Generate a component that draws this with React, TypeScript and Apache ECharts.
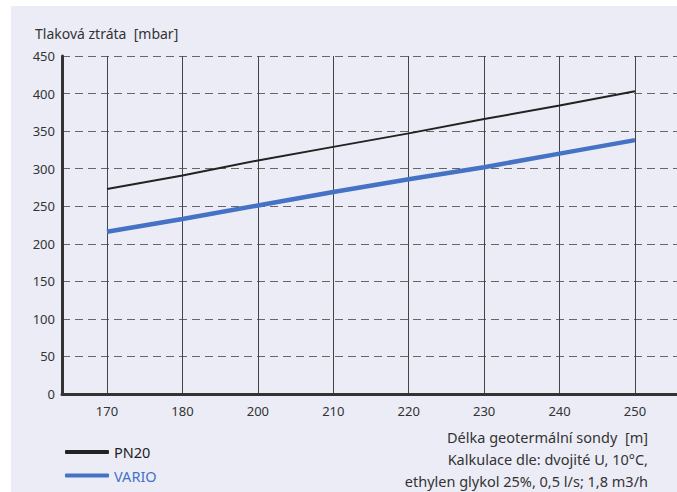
import React, { useEffect, useRef } from "react";
import * as echarts from "echarts";

const categories = ["170", "180", "200", "210", "220", "230", "240", "250"];
const pn20 = [273, 291, 311, 329, 347, 366, 384, 403];
const vario = [216, 233, 251, 269, 286, 302, 320, 338];
const yTicks = { min: 0, max: 450, interval: 50 };
const yTitle = "Tlaková ztráta  [mbar]";
const xNotes = [
  "Délka geotermální sondy  [m]",
  "Kalkulace dle: dvojité U, 10°C,",
  "ethylen glykol 25%, 0,5 l/s; 1,8 m3/h",
];
const seriesNames = ["PN20", "VARIO"];
const seriesColors = ["#222222", "#4472c4"];

const FONT = "'Noto Sans', 'Open Sans', sans-serif";

export default function App() {
  const ref = useRef<HTMLDivElement>(null);
  useEffect(() => {
    if (!ref.current) return;
    const chart = echarts.init(ref.current, undefined, { renderer: "svg" });
    const toPts = (arr: number[]) => arr.map((v, i) => [i, v]);
    chart.setOption({
      animation: false,
      backgroundColor: "#ececf6",
      textStyle: { fontFamily: FONT },
      title: {
        text: yTitle,
        left: 19,
        top: 15,
        textStyle: { fontSize: 14, fontWeight: "normal", color: "#333", fontFamily: FONT },
      },
      legend: seriesNames.map((name, i) => ({
        orient: "vertical",
        left: 49,
        top: 433 + i * 23.5,
        icon: "roundRect",
        itemWidth: 44,
        itemHeight: 4,
        itemTextGap: 9,
        textStyle: { fontSize: 14.5, lineHeight: 16, fontFamily: FONT, color: seriesColors[i] },
        data: [name],
      })),
      graphic: xNotes.map((t, i) => ({
        type: "text",
        right: 29,
        top: 423 + i * 22,
        style: { text: t, fontSize: 14.5, fill: "#333", fontFamily: FONT, textAlign: "right" },
      })),
      grid: [
        { left: 51, right: 0, top: 50, bottom: 98 },
        { left: 96, right: 42, top: 50, bottom: 98 },
      ],
      xAxis: [
        {
          gridIndex: 0,
          type: "value",
          min: 0,
          max: 1,
          axisLine: { show: true, lineStyle: { color: "#333", width: 3 } },
          axisTick: { show: false },
          axisLabel: { show: false },
          splitLine: { show: false },
        },
        {
          gridIndex: 1,
          type: "value",
          min: 0,
          max: categories.length - 1,
          interval: 1,
          axisLine: { show: false },
          axisTick: { show: false },
          axisLabel: {
            margin: 10,
            fontSize: 13,
            color: "#333",
            fontFamily: FONT,
            formatter: (v: number) => categories[Math.round(v)] ?? "",
          },
          splitLine: { show: true, lineStyle: { color: "#444", width: 1 } },
        },
      ],
      yAxis: [
        {
          gridIndex: 0,
          type: "value",
          min: yTicks.min,
          max: yTicks.max,
          interval: yTicks.interval,
          axisLine: { show: true, lineStyle: { color: "#333", width: 3 } },
          axisTick: { show: false },
          axisLabel: { margin: 7, fontSize: 13, color: "#333", fontFamily: FONT },
          splitLine: { show: true, lineStyle: { color: "#666", width: 1, type: [8, 5] } },
        },
        {
          gridIndex: 1,
          type: "value",
          min: yTicks.min,
          max: yTicks.max,
          show: false,
          splitLine: { show: false },
        },
      ],
      series: [
        {
          name: seriesNames[0],
          type: "line",
          xAxisIndex: 1,
          yAxisIndex: 1,
          data: toPts(pn20),
          symbol: "none",
          color: seriesColors[0],
          lineStyle: { color: seriesColors[0], width: 2 },
        },
        {
          name: seriesNames[1],
          type: "line",
          xAxisIndex: 1,
          yAxisIndex: 1,
          data: toPts(vario),
          symbol: "none",
          color: seriesColors[1],
          lineStyle: { color: seriesColors[1], width: 4.5 },
        },
      ],
    });
    return () => chart.dispose();
  }, []);
  return (
    <div
      ref={ref}
      style={{ position: "absolute", left: 11, top: 6, width: 666, height: 486 }}
    />
  );
}
